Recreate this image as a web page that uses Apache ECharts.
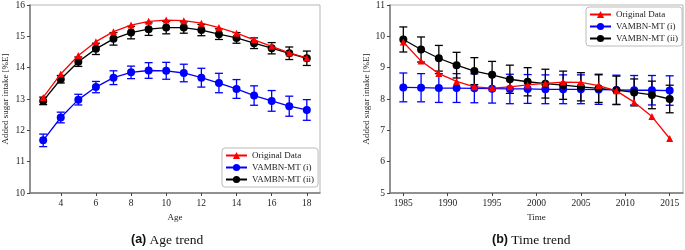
<!DOCTYPE html>
<html><head><meta charset="utf-8">
<script src="https://cdn.jsdelivr.net/npm/echarts@6/dist/echarts.min.js"></script>
<style>html,body{margin:0;padding:0;background:#fff}#c{width:685px;height:250px}</style>
</head><body><div id="c"></div>
<script>
// ---- Data: (a) Age trend ----
const ages = [3,4,5,6,7,8,9,10,11,12,13,14,15,16,17,18];
const ageOriginal = [13.05,13.80,14.39,14.83,15.15,15.36,15.48,15.52,15.50,15.42,15.28,15.10,14.89,14.68,14.47,14.31];
const ageVambn1 = [11.68,12.41,12.98,13.38,13.68,13.85,13.91,13.90,13.83,13.68,13.51,13.32,13.11,12.94,12.77,12.65];
const ageVambn1Err = [0.20,0.17,0.17,0.18,0.22,0.20,0.25,0.27,0.28,0.30,0.31,0.30,0.31,0.33,0.32,0.33];
const ageVambn2 = [12.94,13.63,14.19,14.60,14.92,15.12,15.23,15.28,15.28,15.20,15.07,14.95,14.78,14.62,14.46,14.30];
const ageVambn2Err = [0.12,0.12,0.15,0.18,0.20,0.20,0.20,0.20,0.18,0.18,0.17,0.17,0.17,0.18,0.20,0.23];
const ageTicks = [4,6,8,10,12,14,16,18];
const ageYTicks = [10,11,12,13,14,15,16];

// ---- Data: (b) Time trend ----
const years = [1985,1987,1989,1991,1993,1995,1997,1999,2001,2003,2005,2007,2009,2011,2013,2015];
const timeOriginal = [9.82,9.21,8.81,8.56,8.39,8.35,8.39,8.45,8.50,8.54,8.53,8.43,8.26,7.90,7.44,6.74];
const timeVambn1 = [8.37,8.36,8.35,8.35,8.34,8.33,8.32,8.32,8.31,8.31,8.31,8.30,8.29,8.28,8.28,8.27];
const timeVambn1Err = [0.46,0.45,0.46,0.46,0.46,0.46,0.47,0.46,0.46,0.46,0.46,0.47,0.47,0.47,0.47,0.47];
const timeVambn2 = [9.90,9.58,9.30,9.08,8.89,8.77,8.63,8.55,8.49,8.44,8.39,8.34,8.28,8.21,8.13,8.00];
const timeVambn2Err = [0.40,0.40,0.41,0.41,0.43,0.43,0.45,0.45,0.46,0.45,0.45,0.45,0.45,0.43,0.44,0.44];
const timeTicks = [1985,1990,1995,2000,2005,2010,2015];
const timeYTicks = [5,6,7,8,9,10,11];

const names = ['Original Data','VAMBN-MT (i)','VAMBN-MT (ii)'];
const SERIF = '"Liberation Serif","DejaVu Serif",serif';

function pairs(xs, ys){ return xs.map((x,i)=>[x, ys[i]]); }
function errData(xs, ys, es){ return xs.map((x,i)=>[x, ys[i]-es[i], ys[i]+es[i]]); }
function errSeries(id, xs, ys, es, color, gi){
  return {
    type:'custom', name:id, xAxisIndex:gi, yAxisIndex:gi, z:3,
    data: errData(xs, ys, es),
    encode:{x:0, y:[1,2]},
    renderItem(params, api){
      const lo = api.coord([api.value(0), api.value(1)]);
      const hi = api.coord([api.value(0), api.value(2)]);
      const w = 4;
      const st = {stroke: color, lineWidth: 1.3};
      return {type:'group', children:[
        {type:'line', shape:{x1:lo[0],y1:lo[1],x2:hi[0],y2:hi[1]}, style:st},
        {type:'line', shape:{x1:lo[0]-w,y1:lo[1],x2:lo[0]+w,y2:lo[1]}, style:st},
        {type:'line', shape:{x1:hi[0]-w,y1:hi[1],x2:hi[0]+w,y2:hi[1]}, style:st}
      ]};
    }
  };
}
function lineSeries(name, xs, ys, color, symbol, size, gi, z){
  return {
    type:'line', name, xAxisIndex:gi, yAxisIndex:gi, z,
    data: pairs(xs, ys), symbol, symbolSize:size, showSymbol:true,
    lineStyle:{color, width:1.3}, itemStyle:{color, borderWidth:0},
    emphasis:{disabled:true}, animation:false
  };
}
function xAxis(gi, min, max, ticks, name){
  return {
    type:'value', gridIndex:gi, min, max, name, nameLocation:'middle', nameGap:19,
    nameTextStyle:{fontFamily:SERIF, fontSize:9, color:'#222'},
    axisLine:{show:true, onZero:false, lineStyle:{color:'#7a7a7a', width:1.5}},
    axisTick:{show:true, length:3, customValues:ticks, lineStyle:{color:'#444', width:1}},
    axisLabel:{customValues:ticks, formatter:(v)=>String(v), fontFamily:SERIF, fontSize:9.5, color:'#222', margin:5},
    splitLine:{show:false}
  };
}
function yAxis(gi, ticks, gap){
  return {
    type:'value', gridIndex:gi, min:ticks[0], max:ticks[ticks.length-1], interval:1,
    name:'Added sugar intake [%E]', nameLocation:'middle', nameGap:gap, nameRotate:90,
    nameTextStyle:{fontFamily:SERIF, fontSize:9, color:'#222'},
    axisLine:{show:true, onZero:false, lineStyle:{color:'#7a7a7a', width:1.5}},
    axisTick:{show:true, length:3, lineStyle:{color:'#444', width:1}},
    axisLabel:{fontFamily:SERIF, fontSize:9.5, color:'#222', margin:5},
    splitLine:{show:false}
  };
}
function legend(left, top){
  return {
    data:names, left, top, orient:'vertical', itemGap:3, itemWidth:21, itemHeight:9,
    padding:[3,4,3,3], borderColor:'#bbb', borderWidth:1, borderRadius:3,
    backgroundColor:'#fff', textStyle:{fontFamily:SERIF, fontSize:9, color:'#222'},
    selectedMode:false
  };
}

const chart = echarts.init(document.getElementById('c'), null, {renderer:'canvas'});
chart.setOption({
  animation:false,
  grid:[
    {left:28, top:4, width:292, height:189, show:true, borderColor:'#b5b5b5', borderWidth:1},
    {left:390, top:4, width:293, height:189, show:true, borderColor:'#b5b5b5', borderWidth:1}
  ],
  xAxis:[ xAxis(0, 2.25, 18.75, ageTicks, 'Age'), xAxis(1, 1983.5, 2016.5, timeTicks, 'Time') ],
  yAxis:[ yAxis(0, ageYTicks, 20), yAxis(1, timeYTicks, 18) ],
  legend:[ legend(222, 148), legend(586, 7) ],
  series:[
    errSeries('err-a1', ages, ageVambn1, ageVambn1Err, '#0000ff', 0),
    lineSeries('VAMBN-MT (i)', ages, ageVambn1, '#0000ff', 'circle', 8, 0, 4),
    errSeries('err-a2', ages, ageVambn2, ageVambn2Err, '#000000', 0),
    lineSeries('VAMBN-MT (ii)', ages, ageVambn2, '#000000', 'circle', 8, 0, 5),
    lineSeries('Original Data', ages, ageOriginal, '#ff0000', 'triangle', 7, 0, 6),

    errSeries('err-b1', years, timeVambn1, timeVambn1Err, '#0000ff', 1),
    lineSeries('VAMBN-MT (i)', years, timeVambn1, '#0000ff', 'circle', 8, 1, 4),
    errSeries('err-b2', years, timeVambn2, timeVambn2Err, '#000000', 1),
    lineSeries('VAMBN-MT (ii)', years, timeVambn2, '#000000', 'circle', 8, 1, 5),
    lineSeries('Original Data', years, timeOriginal, '#ff0000', 'triangle', 7, 1, 6)
  ],
  graphic:[
    {type:'text', left:131, top:233, style:{
      text:'{b|(a)} {n|Age trend}',
      rich:{b:{fontFamily:'"Liberation Sans",Arial,sans-serif', fontWeight:'bold', fontSize:12.5, fill:'#111'},
            n:{fontFamily:SERIF, fontSize:13.5, fill:'#111'}}
    }},
    {type:'text', left:492, top:233, style:{
      text:'{b|(b)} {n|Time trend}',
      rich:{b:{fontFamily:'"Liberation Sans",Arial,sans-serif', fontWeight:'bold', fontSize:12.5, fill:'#111'},
            n:{fontFamily:SERIF, fontSize:13.5, fill:'#111'}}
    }}
  ]
});
</script></body></html>
